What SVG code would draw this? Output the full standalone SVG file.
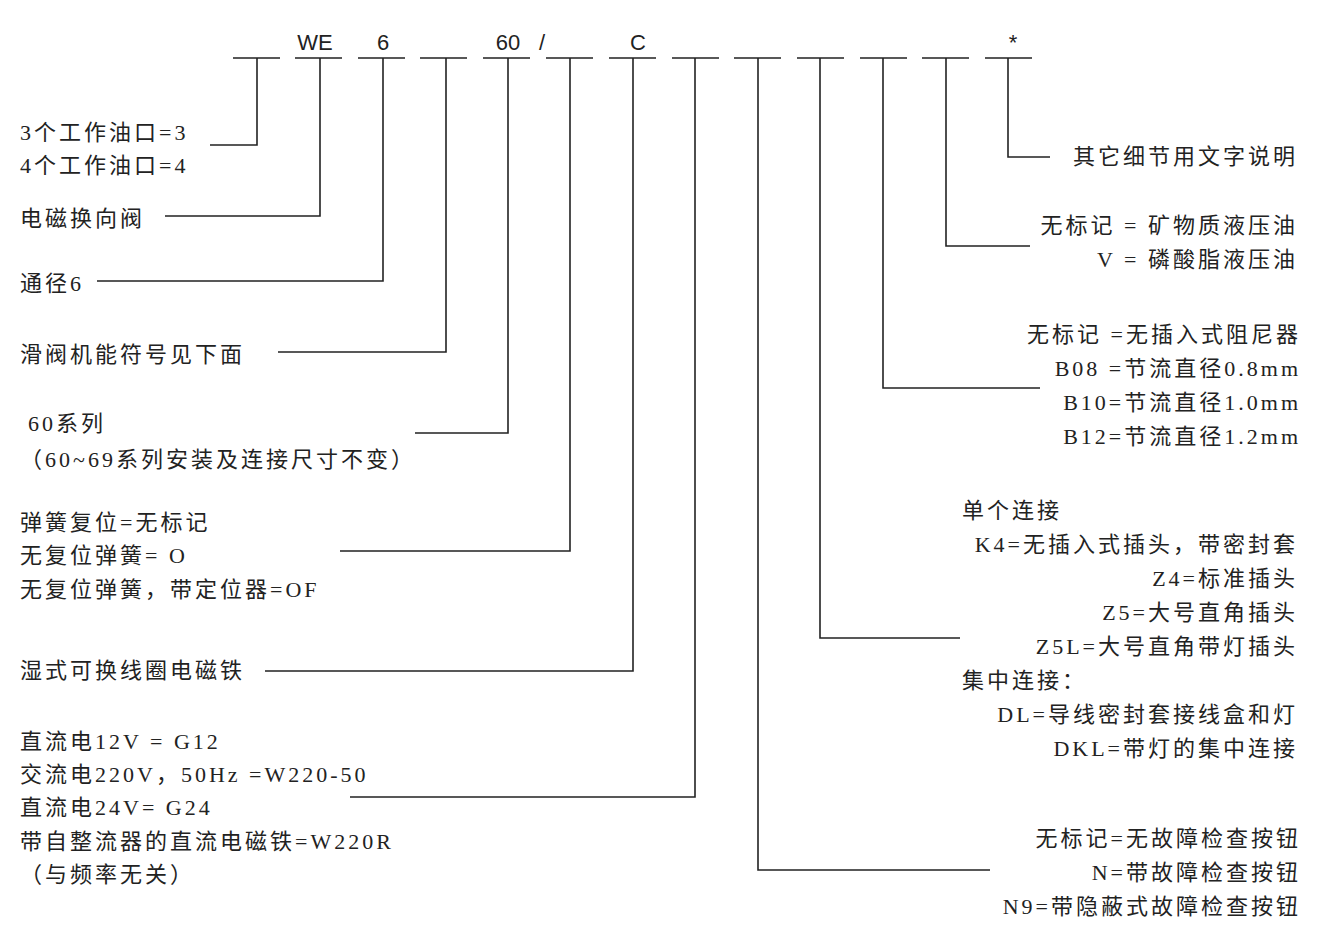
<svg xmlns="http://www.w3.org/2000/svg" width="1318" height="937" viewBox="0 0 1318 937">
<style>
.l{stroke:#222;stroke-width:1.6;fill:none}
.t{font-family:"Liberation Serif","Noto Sans CJK SC",serif;font-size:22px;fill:#222;letter-spacing:3px}
.r{text-anchor:end}
.h{font-family:"Liberation Sans","Noto Sans CJK SC",sans-serif;font-size:22px;fill:#222;text-anchor:middle}
</style>
<rect width="1318" height="937" fill="#fff"/>
<g id="header">
<path class="l" d="M233 58h47M295 58h47M358 58h47M420 58h47M483 58h47M546 58h47M609 58h47M672 58h47M734 58h47M797 58h47M860 58h47M922 58h47M985 58h47"/>
<text class="h" x="315" y="50">WE</text><text class="h" x="383" y="50">6</text><text class="h" x="508" y="50">60</text><text class="h" x="542" y="50">/</text><text class="h" x="638" y="50">C</text><text class="h" x="1013" y="50">*</text>
</g>
<g id="connectors">
<path class="l" d="M257 58V145H210"/>
<path class="l" d="M320 58V216H165"/>
<path class="l" d="M383 58V281H97"/>
<path class="l" d="M446 58V352H278"/>
<path class="l" d="M508 58V433H415"/>
<path class="l" d="M570 58V551H340"/>
<path class="l" d="M633 58V671H265"/>
<path class="l" d="M695 58V797H350"/>
<path class="l" d="M758 58V870H990"/>
<path class="l" d="M820 58V638H960"/>
<path class="l" d="M883 58V388H1040"/>
<path class="l" d="M946 58V246H1030"/>
<path class="l" d="M1008 58V157H1050"/>
</g>
<g id="n1"><text class="t" x="20" y="140">3个工作油口=3</text><text class="t" x="20" y="173">4个工作油口=4</text></g>
<g id="n2"><text class="t" x="20" y="226">电磁换向阀</text></g>
<g id="n3"><text class="t" x="20" y="291">通径6</text></g>
<g id="n4"><text class="t" x="20" y="362">滑阀机能符号见下面</text></g>
<g id="n5"><text class="t" x="28" y="431">60系列</text><text class="t" x="20" y="467">（60~69系列安装及连接尺寸不变）</text></g>
<g id="n6"><text class="t" x="20" y="530">弹簧复位=无标记</text><text class="t" x="20" y="563">无复位弹簧= O</text><text class="t" x="20" y="597">无复位弹簧，带定位器=OF</text></g>
<g id="n7"><text class="t" x="20" y="678">湿式可换线圈电磁铁</text></g>
<g id="n8"><text class="t" x="20" y="749">直流电12V = G12</text><text class="t" x="20" y="782">交流电220V，50Hz =W220-50</text><text class="t" x="20" y="815">直流电24V= G24</text><text class="t" x="20" y="849">带自整流器的直流电磁铁=W220R</text><text class="t" x="20" y="882">（与频率无关）</text></g>
<g id="n9"><text class="t r" x="1298" y="164">其它细节用文字说明</text></g>
<g id="n10"><text class="t r" x="1298" y="233">无标记 = 矿物质液压油</text><text class="t r" x="1298" y="267">V = 磷酸脂液压油</text></g>
<g id="n11"><text class="t r" x="1301" y="342">无标记 =无插入式阻尼器</text><text class="t r" x="1301" y="376">B08 =节流直径0.8mm</text><text class="t r" x="1301" y="410">B10=节流直径1.0mm</text><text class="t r" x="1301" y="444">B12=节流直径1.2mm</text></g>
<g id="n12"><text class="t" x="962" y="518">单个连接</text><text class="t r" x="1298" y="552">K4=无插入式插头，带密封套</text><text class="t r" x="1298" y="586">Z4=标准插头</text><text class="t r" x="1298" y="620">Z5=大号直角插头</text><text class="t r" x="1298" y="654">Z5L=大号直角带灯插头</text><text class="t" x="962" y="688">集中连接：</text><text class="t r" x="1298" y="722">DL=导线密封套接线盒和灯</text><text class="t r" x="1298" y="756">DKL=带灯的集中连接</text></g>
<g id="n13"><text class="t r" x="1301" y="846">无标记=无故障检查按钮</text><text class="t r" x="1301" y="880">N=带故障检查按钮</text><text class="t r" x="1301" y="914">N9=带隐蔽式故障检查按钮</text></g>
</svg>
